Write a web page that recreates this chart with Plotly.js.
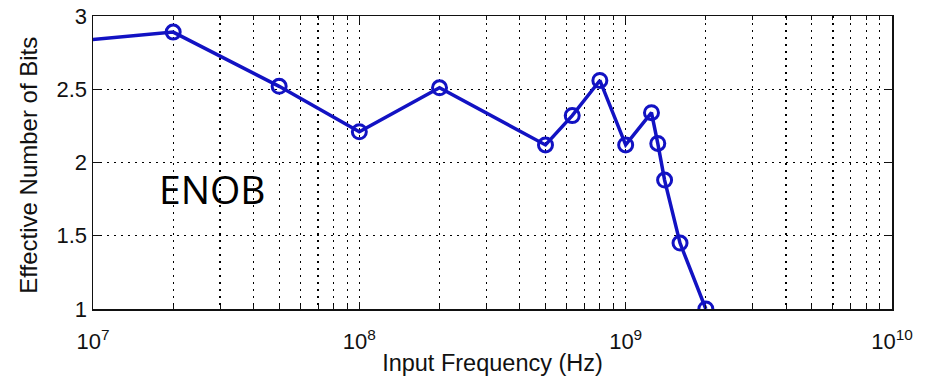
<!DOCTYPE html>
<html>
<head>
<meta charset="utf-8">
<script src="https://cdn.plot.ly/plotly-3.0.1.min.js"></script>
<style>
html,body{margin:0;padding:0;background:#fff;}
#chart{width:928px;height:376px;}
</style>
</head>
<body>
<div id="chart"></div>
<script>
// Input frequency (Hz)
const frequencyHz = [5e6, 2e7, 5e7, 1e8, 2e8, 5e8, 6.3e8, 8e8, 1e9, 1.25e9, 1.32e9, 1.4e9, 1.6e9, 2e9];
// Effective number of bits
const enobBits = [2.79, 2.89, 2.52, 2.21, 2.51, 2.12, 2.32, 2.56, 2.12, 2.34, 2.13, 1.88, 1.45, 1.0];
const xTickVals = [1e7, 1e8, 1e9, 1e10];
const xTickText = ['10<sup>7</sup>', '10<sup>8</sup>', '10<sup>9</sup>', '10<sup>10</sup>'];
const xMinorVals = [2e7,3e7,4e7,5e7,6e7,7e7,8e7,9e7,2e8,3e8,4e8,5e8,6e8,7e8,8e8,9e8,2e9,3e9,4e9,5e9,6e9,7e9,8e9,9e9];
const yTickVals = [1, 1.5, 2, 2.5, 3];
const yTickText = ['1', '1.5', '2', '2.5', '3'];

const blue = 'rgb(18,18,195)';
const gridStyle = {gridcolor: '#000', gridwidth: 1.2, griddash: '2px,5px'};

const trace = {
  x: frequencyHz,
  y: enobBits,
  type: 'scatter',
  mode: 'lines+markers',
  line: {color: blue, width: 3.5},
  marker: {symbol: 'circle-open', size: 14, color: blue, line: {color: blue, width: 3}},
  cliponaxis: true,
  hoverinfo: 'skip'
};

const layout = {
  width: 928,
  height: 376,
  margin: {l: 93, r: 36, t: 16, b: 67},
  paper_bgcolor: '#fff',
  plot_bgcolor: '#fff',
  showlegend: false,
  font: {family: 'Liberation Sans, Arial, sans-serif', size: 22, color: '#111'},
  xaxis: Object.assign({
    type: 'log',
    range: [7, 10],
    tickmode: 'array',
    tickvals: xTickVals,
    ticktext: xTickText,
    showgrid: true,
    ticks: 'inside',
    ticklen: 7,
    tickcolor: '#111',
    showline: true,
    linecolor: '#111',
    linewidth: 1.5,
    mirror: 'ticks',
    zeroline: false,
    tickfont: {size: 22},
    ticklabelstandoff: 12,
    title: {text: 'Input Frequency (Hz)', font: {size: 23.5}, standoff: 4},
    minor: {
      tickmode: 'array',
      tickvals: xMinorVals,
      showgrid: true,
      gridcolor: '#000',
      gridwidth: 1.2,
      griddash: '2px,5px',
      ticks: 'inside',
      ticklen: 4,
      tickcolor: '#111'
    }
  }, gridStyle),
  yaxis: Object.assign({
    range: [1, 3],
    tickmode: 'array',
    tickvals: yTickVals,
    ticktext: yTickText,
    showgrid: true,
    ticks: 'inside',
    ticklen: 7,
    tickcolor: '#111',
    showline: true,
    linecolor: '#111',
    linewidth: 1.5,
    mirror: 'ticks',
    zeroline: false,
    tickfont: {size: 22}
  }, gridStyle),
  annotations: [{
    text: 'Effective Number of Bits',
    xref: 'paper', yref: 'paper',
    x: -0.081, y: 0.49,
    xanchor: 'center', yanchor: 'middle',
    textangle: -90,
    showarrow: false,
    font: {family: 'Liberation Sans, Arial, sans-serif', size: 24, color: '#111'}
  }, {
    text: 'ENOB',
    xref: 'paper', yref: 'paper',
    x: 0.15, y: 0.41,
    xanchor: 'center', yanchor: 'middle',
    showarrow: false,
    font: {family: 'Open Sans, sans-serif', size: 39, color: '#000'}
  }]
};

Plotly.newPlot('chart', [trace], layout, {displayModeBar: false, staticPlot: true});
</script>
</body>
</html>
